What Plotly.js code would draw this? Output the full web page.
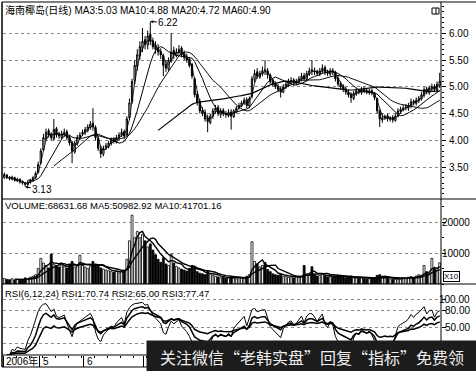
<!DOCTYPE html>
<html>
<head>
<meta charset="utf-8">
<script src="https://cdn.plot.ly/plotly-3.0.1.min.js"></script>
<style>html,body{margin:0;padding:0;background:#fff;}#chart{width:476px;height:371px;}</style>
</head>
<body>
<div id="chart"></div>
<script>
// ---- data ----
const stockName = "海南椰岛(日线)";
const openPx = [3.30,3.35,3.31,3.27,3.30,3.24,3.27,3.23,3.20,3.17,
 3.21,3.24,3.30,3.40,3.58,3.82,4.02,4.18,4.12,4.02,
 4.22,4.12,4.05,4.10,4.16,4.06,3.96,3.78,3.94,4.04,
 4.12,4.14,4.18,4.24,4.32,4.24,4.04,3.84,3.74,3.86,
 3.88,3.94,4.02,3.97,4.04,4.10,4.16,4.10,4.42,4.72,
 5.12,5.38,5.58,5.72,5.88,5.78,5.98,5.86,5.78,5.72,
 5.66,5.58,5.42,5.33,5.48,5.68,5.58,5.64,5.72,5.62,
 5.56,5.52,5.42,5.15,4.86,4.72,4.56,4.52,4.42,4.33,
 4.45,4.54,4.62,4.48,4.56,4.50,4.46,4.53,4.44,4.54,
 4.60,4.64,4.70,4.76,4.64,4.82,5.14,5.28,5.18,5.24,
 5.32,5.30,5.22,5.12,5.06,5.01,4.96,4.90,4.99,5.04,
 5.10,5.13,5.07,5.10,5.14,5.21,5.14,5.24,5.32,5.30,
 5.29,5.24,5.30,5.36,5.28,5.24,5.31,5.27,5.16,5.06,
 5.01,4.96,4.90,4.86,4.78,4.87,4.93,4.89,4.96,4.93,
 4.89,4.93,4.88,4.78,4.55,4.38,4.41,4.46,4.39,4.43,
 4.37,4.45,4.54,4.57,4.61,4.60,4.64,4.73,4.69,4.74,
 4.77,4.84,4.96,4.89,4.97,5.01,4.94,5.02];
const highPx = [3.40,3.37,3.33,3.34,3.32,3.30,3.29,3.25,3.22,3.25,
 3.28,3.33,3.42,3.60,3.85,4.12,4.22,4.22,4.15,4.40,
 4.25,4.16,4.18,4.22,4.20,4.10,3.99,3.99,4.10,4.15,
 4.20,4.25,4.30,4.36,4.60,4.28,4.08,3.90,3.90,3.95,
 3.99,4.05,4.06,4.10,4.15,4.22,4.20,4.45,4.78,5.15,
 5.50,5.70,5.85,6.10,5.95,6.05,6.22,5.92,5.85,5.80,
 5.72,5.62,5.50,5.55,6.00,5.75,5.72,5.78,5.76,5.68,
 5.62,5.56,5.45,5.18,4.92,4.78,4.62,4.58,4.48,4.50,
 4.60,4.66,4.66,4.60,4.60,4.55,4.58,4.58,4.58,4.64,
 4.70,4.74,4.80,4.80,4.82,5.20,5.32,5.35,5.30,5.38,
 5.50,5.35,5.25,5.15,5.10,5.05,5.00,5.05,5.10,5.15,
 5.18,5.16,5.15,5.20,5.26,5.26,5.30,5.36,5.50,5.36,
 5.32,5.35,5.42,5.40,5.32,5.35,5.35,5.30,5.20,5.10,
 5.05,5.00,4.95,4.90,4.92,4.97,4.96,5.00,5.00,4.97,
 4.96,4.96,4.90,4.80,4.58,4.50,4.48,4.50,4.45,4.47,
 4.50,4.60,4.63,4.66,4.68,4.70,4.78,4.76,4.80,4.83,
 4.90,5.00,5.00,5.02,5.06,5.05,5.10,5.26];
const lowPx = [3.28,3.28,3.25,3.25,3.23,3.22,3.19,3.17,3.13,3.15,
 3.19,3.22,3.28,3.38,3.55,3.80,4.00,4.05,4.00,4.00,
 4.05,4.02,4.02,4.07,4.00,3.90,3.57,3.75,3.90,4.00,
 4.08,4.10,4.15,4.20,4.18,4.00,3.80,3.67,3.70,3.82,
 3.85,3.90,3.94,3.94,4.00,4.06,4.02,4.08,4.38,4.68,
 5.05,5.30,5.50,5.65,5.70,5.70,5.78,5.70,5.62,5.58,
 5.52,5.20,5.28,5.30,5.45,5.52,5.55,5.60,5.55,5.50,
 5.45,5.36,5.15,4.80,4.65,4.50,4.45,4.35,4.15,4.30,
 4.40,4.50,4.45,4.42,4.45,4.42,4.43,4.20,4.42,4.50,
 4.58,4.62,4.66,4.60,4.60,4.78,5.08,5.15,5.15,5.20,
 5.22,5.15,5.05,5.00,4.96,4.90,4.80,4.88,4.96,5.00,
 5.05,5.02,5.03,5.06,5.10,5.10,5.10,5.20,5.22,5.22,
 5.20,5.20,5.25,5.22,5.20,5.20,5.22,5.10,5.00,4.95,
 4.90,4.85,4.80,4.70,4.75,4.83,4.86,4.85,4.88,4.86,
 4.85,4.84,4.75,4.50,4.25,4.33,4.38,4.35,4.35,4.33,
 4.35,4.43,4.50,4.54,4.56,4.55,4.60,4.65,4.65,4.70,
 4.74,4.80,4.86,4.85,4.92,4.90,4.90,4.98];
const closePx = [3.36,3.30,3.28,3.31,3.25,3.27,3.22,3.20,3.18,3.22,
 3.25,3.30,3.38,3.55,3.80,4.05,4.15,4.10,4.05,4.20,
 4.10,4.08,4.12,4.15,4.05,3.95,3.80,3.95,4.05,4.10,
 4.15,4.20,4.25,4.30,4.25,4.05,3.85,3.75,3.85,3.90,
 3.95,4.00,3.98,4.05,4.10,4.15,4.08,4.40,4.70,5.10,
 5.40,5.60,5.75,5.85,5.80,5.95,5.85,5.75,5.70,5.65,
 5.60,5.40,5.35,5.50,5.65,5.60,5.65,5.70,5.60,5.55,
 5.50,5.40,5.20,4.85,4.70,4.55,4.50,4.40,4.35,4.45,
 4.55,4.60,4.50,4.55,4.50,4.48,4.52,4.45,4.55,4.60,
 4.65,4.70,4.75,4.65,4.78,5.15,5.25,5.20,5.25,5.30,
 5.30,5.22,5.10,5.05,5.00,4.95,4.90,5.00,5.05,5.10,
 5.12,5.08,5.10,5.15,5.20,5.15,5.25,5.30,5.30,5.28,
 5.25,5.30,5.35,5.28,5.25,5.30,5.28,5.15,5.05,5.00,
 4.95,4.90,4.85,4.80,4.88,4.92,4.90,4.95,4.93,4.90,
 4.92,4.88,4.80,4.55,4.40,4.42,4.45,4.40,4.42,4.38,
 4.45,4.55,4.58,4.60,4.62,4.65,4.72,4.70,4.75,4.78,
 4.85,4.95,4.90,4.98,5.00,4.95,5.05,5.10];
// volume in axis units (x10)
const volume = [1800,1500,1400,1700,1300,1500,1200,1400,2000,1800,
 2200,2500,3000,5000,8300,6800,6000,5200,9700,6500,
 6000,5500,6200,5800,5200,6500,7300,5500,5800,9300,
 6000,5500,5000,5800,7300,6500,6000,5200,4800,4500,
 4300,4000,3800,4200,3600,4000,4500,8000,14000,22300,
 15000,17000,15000,16000,14000,12000,13000,11000,9500,8000,
 7000,8500,6500,6000,9700,6800,5700,5200,4800,4500,
 4200,5000,6000,5500,4000,3500,3300,3000,4200,3200,
 2800,2500,2300,2000,2200,1800,2000,2500,1900,1700,
 2200,2000,1800,2500,3000,13700,7300,6500,5500,6000,
 7000,4700,4000,3300,3000,2800,3200,2500,2600,2200,
 2300,2000,2400,2200,2500,6000,3000,3200,5600,3000,
 2600,2800,3200,2500,2300,2600,2200,2500,2800,2400,
 2200,2000,2300,2600,2000,1900,1800,2000,1700,1600,
 1800,1700,2000,2800,3000,2500,2200,1800,1700,1500,
 1600,1800,1700,2000,1900,2200,2400,2000,2600,3000,
 2800,6000,4000,3500,8300,5000,4500,6863];
// month labels that are visible in the reference (later months are hidden under the banner)
const monthTickText = ["2006年","5","6","7"];
const monthFirstDay = [0,14,31,54,75,98,119,136,158];
const priceTicks = [3.5,4.0,4.5,5.0,5.5,6.0];
const volTicks = [10000,20000];
const rsiGrid = [20,50,80,100];
const rsiLabels = [50,80,100];   // the 20.00 label sits under the banner in the reference
const priceTitle = stockName + " MA3:5.03 MA10:4.88 MA20:4.72 MA60:4.90";
const volTitle = "VOLUME:68631.68 MA5:50982.92 MA10:41701.16";
const rsiTitle = "RSI(6,12,24) RSI1:70.74 RSI2:65.00 RSI3:77.47";
const watermark = "关注微信“老韩实盘”回复“指标”免费领";

// ---- indicators derived from the data ----
const N = closePx.length;
const idx = closePx.map((_, i) => i);
function ma(a, n) { return a.map((_, i) => { if (i < n - 1) return null; let s = 0; for (let k = i - n + 1; k <= i; k++) s += a[k]; return s / n; }); }
function rsi(c, n) { let up = null, dn = null; const out = [null];
  for (let i = 1; i < c.length; i++) { const d = c[i] - c[i-1]; const u = Math.max(d, 0), a = Math.abs(d);
    if (up === null) { up = u; dn = a; } else { up = (u + (n-1)*up)/n; dn = (a + (n-1)*dn)/n; }
    out.push(dn === 0 ? 50 : up/dn*100); }
  return out; }

const F = "Liberation Sans, Arial, Noto Sans CJK SC, sans-serif";
const xp = px => (px - 3) / 438;
const yp = py => (355 - py) / 353;

const traces = [
  {type:'candlestick', x:idx, open:openPx, high:highPx, low:lowPx, close:closePx, xaxis:'x', yaxis:'y',
   increasing:{line:{color:'#000',width:1}, fillcolor:'#fff'}, decreasing:{line:{color:'#000',width:1}, fillcolor:'#000'},
   whiskerwidth:0, hoverinfo:'skip', showlegend:false},
  {type:'scatter', mode:'lines', x:idx, y:ma(closePx,3), line:{color:'#000',width:0.8}, xaxis:'x', yaxis:'y', hoverinfo:'skip'},
  {type:'scatter', mode:'lines', x:idx, y:ma(closePx,10), line:{color:'#000',width:1}, xaxis:'x', yaxis:'y', hoverinfo:'skip'},
  {type:'scatter', mode:'lines', x:idx, y:ma(closePx,20), line:{color:'#111',width:1}, xaxis:'x', yaxis:'y', hoverinfo:'skip'},
  {type:'scatter', mode:'lines', x:idx, y:ma(closePx,60), line:{color:'#000',width:1.2}, xaxis:'x', yaxis:'y', hoverinfo:'skip'},
  {type:'bar', x:idx, y:volume, xaxis:'x', yaxis:'y2', hoverinfo:'skip',
   marker:{color:closePx.map((c,i)=> c >= openPx[i] ? '#fff' : '#000'), line:{color:'#000', width:0.8}}},
  {type:'scatter', mode:'lines', x:idx, y:ma(volume,5), line:{color:'#000',width:1.4}, xaxis:'x', yaxis:'y2', hoverinfo:'skip'},
  {type:'scatter', mode:'lines', x:idx, y:ma(volume,10), line:{color:'#000',width:1.4}, xaxis:'x', yaxis:'y2', hoverinfo:'skip'},
  {type:'scatter', mode:'lines', x:idx, y:rsi(closePx,6), line:{color:'#000',width:1}, xaxis:'x', yaxis:'y3', hoverinfo:'skip'},
  {type:'scatter', mode:'lines', x:idx, y:rsi(closePx,12), line:{color:'#000',width:1.5}, xaxis:'x', yaxis:'y3', hoverinfo:'skip'},
  {type:'scatter', mode:'lines', x:idx, y:rsi(closePx,24), line:{color:'#000',width:1.5}, xaxis:'x', yaxis:'y3', hoverinfo:'skip'}
];

const yCommon = {side:'right', showticklabels:false, ticks:'outside', ticklen:4, tickcolor:'#000',
  showgrid:true, gridcolor:'#8a8a8a', griddash:'dot', gridwidth:1, zeroline:false, showline:false, fixedrange:true};

const annotations = [];
const txt = (t, x, y, opts) => Object.assign({text:t, x:x, y:y, xref:'paper', yref:'paper', showarrow:false,
  font:{family:F, size:9.5, color:'#000'}, xanchor:'left', yanchor:'middle'}, opts || {});
annotations.push(txt(priceTitle, xp(3), yp(10), {font:{family:F,size:10,color:'#000'}}));
annotations.push(txt(volTitle, xp(3), yp(205)));
annotations.push(txt(rsiTitle, xp(3), yp(293)));
priceTicks.forEach(v => annotations.push(txt(v.toFixed(2), xp(471), v, {yref:'y', xanchor:'right', font:{family:F,size:10,color:'#000'}})));
volTicks.forEach(v => annotations.push(txt(String(v), xp(472), v, {yref:'y2', xanchor:'right', font:{family:F,size:10,color:'#000'}})));
rsiLabels.forEach(v => annotations.push(txt(v.toFixed(2), xp(472), v, {yref:'y3', xanchor:'right', font:{family:F,size:10,color:'#000'}})));
annotations.push(txt('X10', xp(443), yp(276), {font:{family:F,size:8,color:'#000'}, bordercolor:'#000', borderwidth:1, borderpad:0}));
monthTickText.forEach((t, k) => annotations.push(txt(t, monthFirstDay[k] - 0.5 + (k===0?0.3:0.6), yp(361), {xref:'x', font:{family:F,size:10,color:'#000'}})));
// extreme markers
annotations.push({x:56, y:6.22, xref:'x', yref:'y', text:'6.22', showarrow:true, ax:18, ay:1, arrowhead:2, arrowsize:0.6, arrowwidth:1, arrowcolor:'#000', standoff:0, font:{family:F,size:10,color:'#000'}});
annotations.push({x:8, y:3.13, xref:'x', yref:'y', text:'3.13', showarrow:true, ax:17, ay:3, arrowhead:2, arrowsize:0.6, arrowwidth:1, arrowcolor:'#000', standoff:0, font:{family:F,size:10,color:'#000'}});
// watermark banner
annotations.push({text:watermark, xref:'paper', yref:'paper', x:xp(146), y:yp(340), xanchor:'left', yanchor:'top',
  width:330, height:31, bgcolor:'#1c1c1c', borderpad:0, showarrow:false, align:'center', valign:'middle',
  font:{family:'Noto Sans CJK SC, sans-serif', size:16, color:'#eeeeee'}});

const L = (x0,y0,x1,y1,w) => ({type:'line', xref:'paper', yref:'paper', x0:x0, y0:y0, x1:x1, y1:y1, line:{color:'#000', width:w||1}, layer:'above'});
const shapes = [
  L(xp(2), yp(2), xp(476), yp(2)),
  L(xp(2), yp(199), xp(476), yp(199)),
  L(xp(2), yp(284), xp(476), yp(284)),
  L(xp(2), yp(355), xp(441), yp(355)),
  L(xp(2), yp(367), xp(441), yp(367)),
  L(xp(2), yp(2), xp(2), yp(367), 1.5),
  L(xp(441), yp(2), xp(441), yp(367)),
  {type:'rect', xref:'paper', yref:'paper', x0:xp(432), x1:xp(439), y0:yp(14), y1:yp(8), line:{color:'#000',width:1}, fillcolor:'#fff', layer:'above'},
  L(xp(436), yp(14), xp(436), yp(8))
];

const layout = {
  width:476, height:371, margin:{l:3, r:35, t:2, b:16, pad:0},
  paper_bgcolor:'#fff', plot_bgcolor:'#fff', showlegend:false, bargap:0.25,
  font:{family:F, size:10, color:'#000'},
  xaxis:{domain:[0,1], anchor:'y3', range:[-0.5, N-0.5], rangeslider:{visible:false},
    tickvals:monthFirstDay.map(d => d - 0.5), showticklabels:false, ticks:'outside', ticklen:11, tickcolor:'#000',
    minor:{ticks:'outside', ticklen:2, tickcolor:'#000', tick0:-0.5, dtick:5},
    showgrid:false, zeroline:false, showline:false, fixedrange:true},
  yaxis:Object.assign({}, yCommon, {domain:[yp(199), 1], anchor:'x', range:[2.903, 6.585], tickvals:priceTicks,
    minor:{ticks:'outside', ticklen:2, tickcolor:'#000', dtick:0.1, showgrid:false}}),
  yaxis2:Object.assign({}, yCommon, {domain:[yp(284), yp(199)], anchor:'x', range:[0, 27540], tickvals:volTicks,
    minor:{ticks:'outside', ticklen:2, tickcolor:'#000', dtick:5000, showgrid:false}}),
  yaxis3:Object.assign({}, yCommon, {domain:[0, yp(284)], anchor:'x', range:[0, 128.9], tickvals:rsiGrid}),
  annotations:annotations, shapes:shapes
};

Plotly.newPlot('chart', traces, layout, {staticPlot:true, displayModeBar:false});
</script>
</body>
</html>
